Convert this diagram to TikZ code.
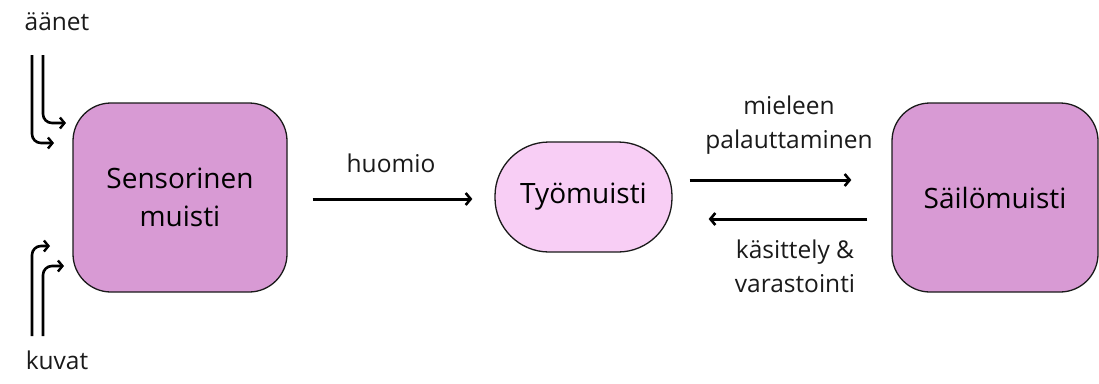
\documentclass[tikz,border=0pt]{standalone}
\usepackage{fontspec}
\setmainfont{Open Sans}
\usetikzlibrary{arrows.meta}
\definecolor{boxdark}{HTML}{D89AD4}
\definecolor{boxlight}{HTML}{F8CEF5}
\definecolor{ink}{HTML}{1A1A1A}
\tikzset{
  bigbox/.style={draw=ink, line width=1.3pt, fill=boxdark, rounded corners=38pt, align=center, font=\fontsize{28}{38}\selectfont, inner sep=0pt},
  pillbox/.style={draw=ink, line width=1.3pt, fill=boxlight, rounded corners=54pt, align=center, font=\fontsize{28}{38}\selectfont, inner sep=0pt},
  lbl/.style={align=center, font=\fontsize{24.5}{34}\selectfont, text=ink, inner sep=0pt},
  arr/.style={line width=3pt, draw=black, -{Straight Barb[length=5pt,width=12pt,line width=2.6pt]}},
  inarr/.style={line width=2.6pt, draw=black, rounded corners=9pt, -{Straight Barb[length=4.5pt,width=11pt,line width=2.4pt]}}
}
\begin{document}
\begin{tikzpicture}[x=1pt,y=-1pt]
\useasboundingbox (0,0) rectangle (1099,383);
\node[bigbox, minimum width=214pt, minimum height=189pt] (sens) at (180,197.5) {Sensorinen\\muisti};
\node[pillbox, minimum width=177pt, minimum height=110pt] (tyo) at (583.5,197) {Työmuisti};
\node[bigbox, minimum width=206pt, minimum height=189pt] (sail) at (995,197.5) {Säilömuisti};

\node[lbl] (aanet) at (57,22) {äänet};
\node[lbl] (kuvat) at (57,360) {kuvat};
\node[lbl] (huomio) at (391,163) {huomio};
\node[lbl] (miel) at (789,125) {mieleen\\palauttaminen};
\node[lbl] (kas) at (795,266) {käsittely \&\\varastointi};

\coordinate (t1s) at (32,55);  \coordinate (t1e) at (54,143);
\coordinate (t2s) at (43,55);  \coordinate (t2e) at (66,123);
\coordinate (b1s) at (32,336); \coordinate (b1e) at (50,246);
\coordinate (b2s) at (43,336); \coordinate (b2e) at (64,266);
\draw[inarr] (t1s) |- (t1e);
\draw[inarr] (t2s) |- (t2e);
\draw[inarr] (b1s) |- (b1e);
\draw[inarr] (b2s) |- (b2e);

\draw[arr] ([xshift=25pt,yshift=-1.5pt]sens.east) -- ([xshift=-22pt,yshift=-2pt]tyo.west);
\draw[arr] ([xshift=17pt,yshift=17pt]tyo.east) -- ([xshift=-40pt,yshift=17.5pt]sail.west);
\draw[arr] ([xshift=-24pt,yshift=-21.5pt]sail.west) -- ([xshift=36pt,yshift=-22pt]tyo.east);
\end{tikzpicture}
\end{document}
